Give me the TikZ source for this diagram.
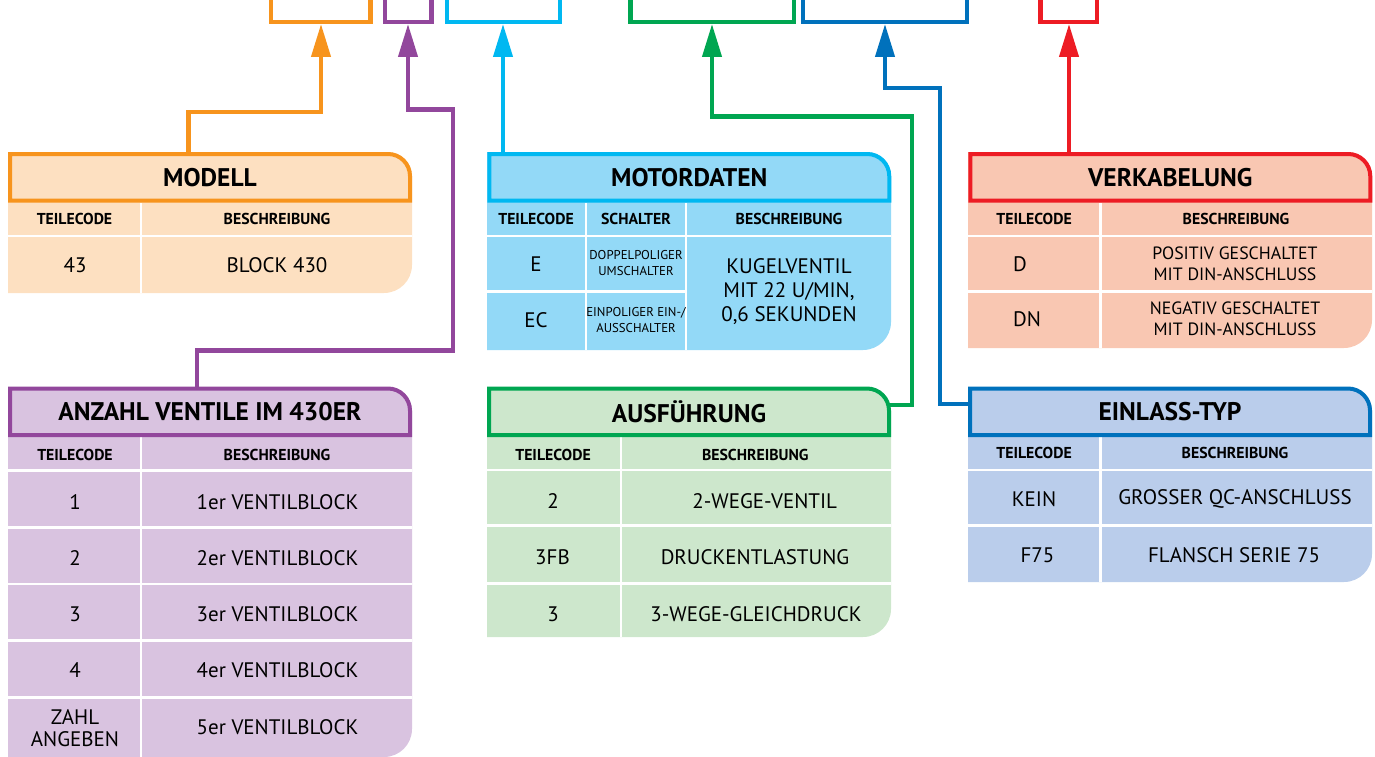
\documentclass[tikz,border=0pt]{standalone}
\usepackage{fontspec}
\setmainfont{PT Sans}
\usetikzlibrary{arrows.meta,calc}
\definecolor{orangeline}{HTML}{F7941D}
\definecolor{orangefill}{HTML}{FDE0C1}
\definecolor{purpleline}{HTML}{92479C}
\definecolor{purplefill}{HTML}{D9C3E0}
\definecolor{cyanline}{HTML}{00B8F1}
\definecolor{cyanfill}{HTML}{93D9F7}
\definecolor{greenline}{HTML}{00A651}
\definecolor{greenfill}{HTML}{CDE7CC}
\definecolor{blueline}{HTML}{0071BC}
\definecolor{bluefill}{HTML}{BACDEB}
\definecolor{redline}{HTML}{ED1C24}
\definecolor{redfill}{HTML}{F9C7B2}
\newdimen\hdim
\newdimen\wdim
\hdim=46.5pt
\wdim=400pt
\tikzstyle{header}=[
  font={\fontsize{25.5}{28}\selectfont\bfseries},
  inner sep=0pt,
  minimum height=\hdim,
  minimum width=\wdim,
  outer sep=0pt,
  text depth=0pt,
]
\tikzstyle{colhead}=[
  font={\fontsize{15.8}{18}\selectfont\bfseries},
  inner sep=0pt,
  text depth=0pt,
]
\tikzstyle{cell}=[
  font={\fontsize{21}{24}\selectfont},
  inner sep=0pt,
  align=center,
]
\tikzstyle{smallcell}=[cell, font={\fontsize{12.8}{15.7}\selectfont}]
\tikzstyle{midcell}=[cell, font={\fontsize{17.8}{21}\selectfont}]
\tikzstyle{frame}=[line width=4pt]
\tikzstyle{divider}=[draw=white, line width=2.8pt]
\tikzstyle{link}=[line width=4.2pt]
\tikzstyle{bracket}=[line width=4.2pt]
\tikzset{
  >={Triangle[length=33pt,width=19pt]},
}
% background of a table: only the right corners are round
\newcommand\tablebg[5]{%
  \fill [#5] (#1,#2) -- ({#3-24},#2) arc [start angle=-90, end angle=0, radius=24]
    -- (#3,{#4-28}) arc [start angle=0, end angle=90, radius=28] -- (#1,#4) -- cycle;}
% coloured frame round a table title
\newcommand\headframe[2]{%
  \draw [frame, #2] (#1.south west) -- (#1.north west)
    -- ($(#1.north east)+(-22,0)$) arc [start angle=-90, end angle=0, radius=22]
    -- (#1.south east) -- cycle;}

\begin{document}
\begin{tikzpicture}[x=1pt, y=-1pt]
  \useasboundingbox (0,0) rectangle (1375,757);
  %% backgrounds
  \tablebg{8}{152}{412}{293}{orangefill}
  \tablebg{8}{387}{412}{757}{purplefill}
  \tablebg{487}{152}{891}{350}{cyanfill}
  \tablebg{487}{387}{891}{637}{greenfill}
  \tablebg{968}{152}{1372}{348}{redfill}
  \tablebg{968}{387}{1372}{582}{bluefill}
  %% dividers
  \draw [divider] (8,236) -- (412,236) (141,202.5) -- (141,293);
  \draw [divider] (8,470.7) -- (412,470.7) (8,527.3) -- (412,527.3)
    (8,584) -- (412,584) (8,640.7) -- (412,640.7) (8,697.3) -- (412,697.3)
    (141,436.5) -- (141,757);
  \draw [divider] (487,236) -- (891,236) (487,291.7) -- (686,291.7)
    (586,202.5) -- (586,350) (686,202.5) -- (686,350);
  \draw [divider] (487,470) -- (891,470) (487,525.7) -- (891,525.7)
    (487,583.3) -- (891,583.3) (621,436.5) -- (621,637);
  \draw [divider] (968,236) -- (1372,236) (968,291.7) -- (1372,291.7)
    (1100.7,202.5) -- (1100.7,348);
  \draw [divider] (968,470) -- (1372,470) (968,525.7) -- (1372,525.7)
    (1100.7,436.5) -- (1100.7,582);
  %% titles
  \node (modell) [header] at (210,177.25) {MODELL};
  \node (anzahl) [header] at (210,411.75) {ANZAHL VENTILE IM 430ER};
  \node (motor) [header] at (689.25,177.25) {MOTORDATEN};
  \node (ausf) [header] at (689,411.75) {AUSFÜHRUNG};
  \node (verk) [header] at (1170.25,177.25) {VERKABELUNG};
  \node (einlass) [header] at (1170,411.75) {EINLASS-TYP};
  \headframe{modell}{orangeline}
  \headframe{anzahl}{purpleline}
  \headframe{motor}{cyanline}
  \headframe{ausf}{greenline}
  \headframe{verk}{redline}
  \headframe{einlass}{blueline}
  %% modell
  \node (mod-h1) [colhead] at (74.5,219) {TEILECODE};
  \node (mod-h2) [colhead] at (277,219) {BESCHREIBUNG};
  \node (mod-a1) [cell] at (75,265.5) {43};
  \node (mod-b1) [cell] at (277,265.5) {BLOCK 430};
  %% anzahl ventile
  \node (anz-h1) [colhead] at (75,455) {TEILECODE};
  \node (anz-h2) [colhead] at (277,455) {BESCHREIBUNG};
  \node (anz-a1) [cell] at (75,502) {1};
  \node (anz-b1) [cell] at (277.5,502) {1er VENTILBLOCK};
  \node (anz-a2) [cell] at (75,558) {2};
  \node (anz-b2) [cell] at (277.5,558) {2er VENTILBLOCK};
  \node (anz-a3) [cell] at (75,614) {3};
  \node (anz-b3) [cell] at (277.5,614) {3er VENTILBLOCK};
  \node (anz-a4) [cell] at (75,670.5) {4};
  \node (anz-b4) [cell] at (277.5,670.5) {4er VENTILBLOCK};
  \node (anz-a5) [cell, font={\fontsize{21}{22}\selectfont}] at (75,728) {ZAHL\\ANGEBEN};
  \node (anz-b5) [cell] at (277.5,727.5) {5er VENTILBLOCK};
  %% motordaten
  \node (mot-h1) [colhead] at (536,219) {TEILECODE};
  \node (mot-h2) [colhead] at (636,219) {SCHALTER};
  \node (mot-h3) [colhead] at (789,219) {BESCHREIBUNG};
  \node (mot-a1) [cell] at (536,264) {E};
  \node (mot-a2) [cell] at (536,320) {EC};
  \node (mot-b1) [smallcell] at (636,263) {DOPPELPOLIGER\\UMSCHALTER};
  \node (mot-b2) [smallcell] at (636,319.7) {EINPOLIGER EIN-/\\AUSSCHALTER};
  \node (mot-c1) [cell] at (789,291.7) {KUGELVENTIL\\MIT 22 U/MIN,\\0,6 SEKUNDEN};
  %% ausfuehrung
  \node (aus-h1) [colhead] at (553,455) {TEILECODE};
  \node (aus-h2) [colhead] at (755.3,455) {BESCHREIBUNG};
  \node (aus-a1) [cell] at (553,501) {2};
  \node (aus-b1) [cell] at (764.7,501) {2-WEGE-VENTIL};
  \node (aus-a2) [cell] at (552.5,557) {3FB};
  \node (aus-b2) [cell] at (755,557) {DRUCKENTLASTUNG};
  \node (aus-a3) [cell] at (553,614) {3};
  \node (aus-b3) [cell] at (756,614) {3-WEGE-GLEICHDRUCK};
  %% verkabelung
  \node (ver-h1) [colhead] at (1034,219) {TEILECODE};
  \node (ver-h2) [colhead] at (1236,219) {BESCHREIBUNG};
  \node (ver-a1) [cell, anchor=west] at (1013,263.7) {D};
  \node (ver-a2) [cell, anchor=west] at (1013,319) {DN};
  \node (ver-b1) [midcell] at (1235,263.3) {POSITIV GESCHALTET\\MIT DIN-ANSCHLUSS};
  \node (ver-b2) [midcell] at (1235,318.3) {NEGATIV GESCHALTET\\MIT DIN-ANSCHLUSS};
  %% einlass-typ
  \node (ein-h1) [colhead] at (1034,453) {TEILECODE};
  \node (ein-h2) [colhead] at (1235,453) {BESCHREIBUNG};
  \node (ein-a1) [cell] at (1034,499) {KEIN};
  \node (ein-b1) [cell] at (1235,499) {GROSSER QC-ANSCHLUSS};
  \node (ein-a2) [cell] at (1037.5,555) {F75};
  \node (ein-b2) [cell] at (1234,555) {FLANSCH SERIE 75};
  %% brackets
  \coordinate (orangebr) at (321,24);
  \coordinate (purplebr) at (408,24);
  \coordinate (cyanbr) at (503,24);
  \coordinate (greenbr) at (712,24);
  \coordinate (bluebr) at (885,24);
  \coordinate (redbr) at (1069,24);
  \draw [bracket, orangeline] (271,-3) |- (370.5,22) -- (370.5,-3);
  \draw [bracket, purpleline] (385,-3) |- (431.5,22) -- (431.5,-3);
  \draw [bracket, cyanline] (447,-3) |- (560,22) -- (560,-3);
  \draw [bracket, greenline] (630.5,-3) |- (794,22) -- (794,-3);
  \draw [bracket, blueline] (803,-3) |- (967,22) -- (967,-3);
  \draw [bracket, redline] (1040.5,-3) |- (1097,22) -- (1097,-3);
  %% links
  \draw [->, link, orangeline] ([xshift=-21.5pt]modell.north) |- (321,112) -- (orangebr);
  \draw [->, link, purpleline] ([xshift=-13pt]anzahl.north) |- (453,350.5)
    |- (408,109.5) -- (purplebr);
  \draw [->, link, cyanline] (motor.north -| cyanbr) -- (cyanbr);
  \draw [->, link, greenline] ([yshift=7pt]ausf.east) -| (912,116.5) -| (greenbr);
  \draw [->, link, blueline] ([yshift=7.5pt]einlass.west) -| (940,88) -| (bluebr);
  \draw [->, link, redline] (verk.north -| redbr) -- (redbr);
\end{tikzpicture}
\end{document}
